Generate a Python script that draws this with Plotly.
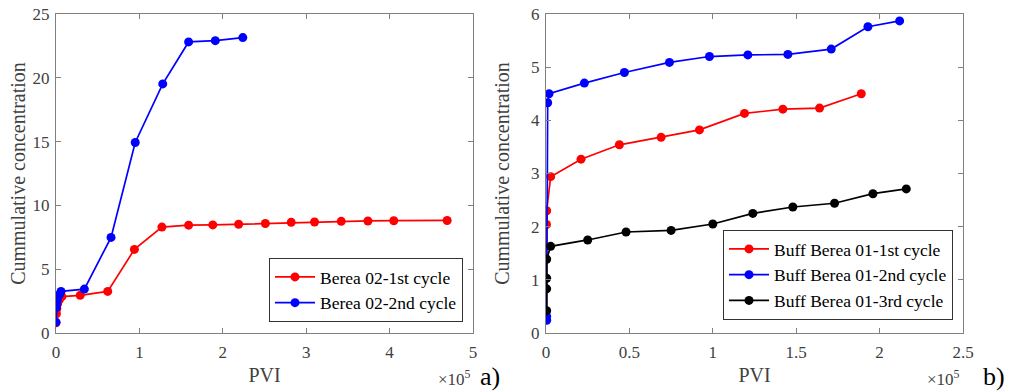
import plotly.graph_objects as go

# Panel a) Berea 02 (PVI in units of 1e5)
a1_x = [0, 0.005, 0.01, 0.02, 0.04, 0.07, 0.29, 0.62, 0.94, 1.27, 1.59, 1.88, 2.19, 2.51, 2.82, 3.10, 3.42, 3.74, 4.05, 4.69]
a1_y = [0.8, 1.5, 1.9, 2.3, 2.6, 2.85, 2.95, 3.26, 6.55, 8.3, 8.45, 8.47, 8.52, 8.58, 8.67, 8.7, 8.75, 8.78, 8.8, 8.82]
a2_x = [0, 0.005, 0.01, 0.015, 0.02, 0.04, 0.06, 0.34, 0.66, 0.95, 1.28, 1.59, 1.91, 2.24]
a2_y = [0.85, 2.0, 2.3, 2.6, 2.8, 3.0, 3.26, 3.44, 7.49, 14.93, 19.52, 22.81, 22.91, 23.15]

# Panel b) Buff Berea 01
b1_x = [0.002, 0.003, 0.004, 0.028, 0.21, 0.44, 0.69, 0.92, 1.19, 1.42, 1.64, 1.89]
b1_y = [1.38, 2.04, 2.3, 2.94, 3.27, 3.54, 3.68, 3.82, 4.13, 4.21, 4.23, 4.5]
b2_x = [0.004, 0.004, 0.01, 0.018, 0.23, 0.47, 0.74, 0.98, 1.21, 1.45, 1.71, 1.93, 2.12]
b2_y = [0.24, 0.31, 4.33, 4.5, 4.7, 4.9, 5.09, 5.2, 5.23, 5.24, 5.34, 5.76, 5.87]
b3_x = [0.004, 0.004, 0.004, 0.004, 0.028, 0.25, 0.48, 0.75, 1.0, 1.24, 1.48, 1.73, 1.96, 2.16]
b3_y = [0.42, 0.83, 1.03, 1.39, 1.63, 1.75, 1.9, 1.93, 2.05, 2.25, 2.37, 2.44, 2.62, 2.71]

W, H = 1010, 392
FONT = "Liberation Serif"
GRAY = "#404040"
AX = "#808080"

def px_x(p):
    return p / W

def px_y(p):
    return 1 - p / H

fig = go.Figure()

def add(x, y, name, color, xa, ya, legend):
    fig.add_trace(go.Scatter(
        x=x, y=y, name=name, mode="lines+markers",
        line=dict(color=color, width=1.7),
        marker=dict(color=color, size=9),
        xaxis=xa, yaxis=ya, legend=legend,
    ))

add(a1_x, a1_y, "Berea 02-1st cycle", "#ff0000", "x", "y", "legend")
add(a2_x, a2_y, "Berea 02-2nd cycle", "#0000ff", "x", "y", "legend")
add(b1_x, b1_y, "Buff Berea 01-1st cycle", "#ff0000", "x2", "y2", "legend2")
add(b2_x, b2_y, "Buff Berea 01-2nd cycle", "#0000ff", "x2", "y2", "legend2")
add(b3_x, b3_y, "Buff Berea 01-3rd cycle", "#000000", "x2", "y2", "legend2")

axis_common = dict(
    showgrid=False, zeroline=False, showline=True, linecolor=AX, linewidth=1,
    mirror="ticks", ticks="inside", ticklen=5, tickcolor=AX, automargin=False,
    tickfont=dict(family=FONT, size=17, color=GRAY),
    title_font=dict(family=FONT, size=20, color=GRAY),
)

ydom = [px_y(333), px_y(14)]
fig.update_layout(
    width=W, height=H, margin=dict(l=0, r=0, t=0, b=0),
    paper_bgcolor="white", plot_bgcolor="white",
    font=dict(family=FONT),
    xaxis=dict(domain=[px_x(56), px_x(473)], range=[0, 5], tickvals=[0, 1, 2, 3, 4, 5],
               ticklabelstandoff=4,
               title_text="PVI", title_standoff=6, anchor="y", **axis_common),
    yaxis=dict(domain=ydom, range=[0, 25], tickvals=[0, 5, 10, 15, 20, 25],
               ticklabelstandoff=2,
               title_text="Cummulative concentration", title_standoff=1, anchor="x", **axis_common),
    xaxis2=dict(domain=[px_x(546), px_x(963)], range=[0, 2.5], tickvals=[0, 0.5, 1, 1.5, 2, 2.5],
                ticktext=["0", "0.5", "1", "1.5", "2", "2.5"], ticklabelstandoff=4,
                title_text="PVI", title_standoff=6, anchor="y2", **axis_common),
    yaxis2=dict(domain=ydom, range=[0, 6], tickvals=[0, 1, 2, 3, 4, 5, 6],
                ticklabelstandoff=2,
                title_text="Cummulative concentration", title_standoff=16, anchor="x2", **axis_common),
    legend=dict(x=px_x(463), y=px_y(322), xanchor="right", yanchor="bottom",
                bgcolor="white", bordercolor="#333333", borderwidth=1,
                font=dict(family=FONT, size=17.5, color="#000000"),
                tracegroupgap=0, itemwidth=40),
    legend2=dict(x=px_x(953), y=px_y(320), xanchor="right", yanchor="bottom",
                 bgcolor="white", bordercolor="#333333", borderwidth=1,
                 font=dict(family=FONT, size=17.5, color="#000000"),
                 tracegroupgap=0, itemwidth=40),
    showlegend=True,
)

annots = [
    dict(x=px_x(454), y=px_y(378), text="×10<sup>5</sup>", font=dict(family=FONT, size=17, color=GRAY)),
    dict(x=px_x(490), y=px_y(376), text="a)", font=dict(family=FONT, size=26, color="#000000")),
    dict(x=px_x(943), y=px_y(378), text="×10<sup>5</sup>", font=dict(family=FONT, size=17, color=GRAY)),
    dict(x=px_x(994), y=px_y(376), text="b)", font=dict(family=FONT, size=26, color="#000000")),
]
for a in annots:
    fig.add_annotation(xref="paper", yref="paper", showarrow=False, xanchor="center", yanchor="middle", **a)

fig.write_html("out.html")
